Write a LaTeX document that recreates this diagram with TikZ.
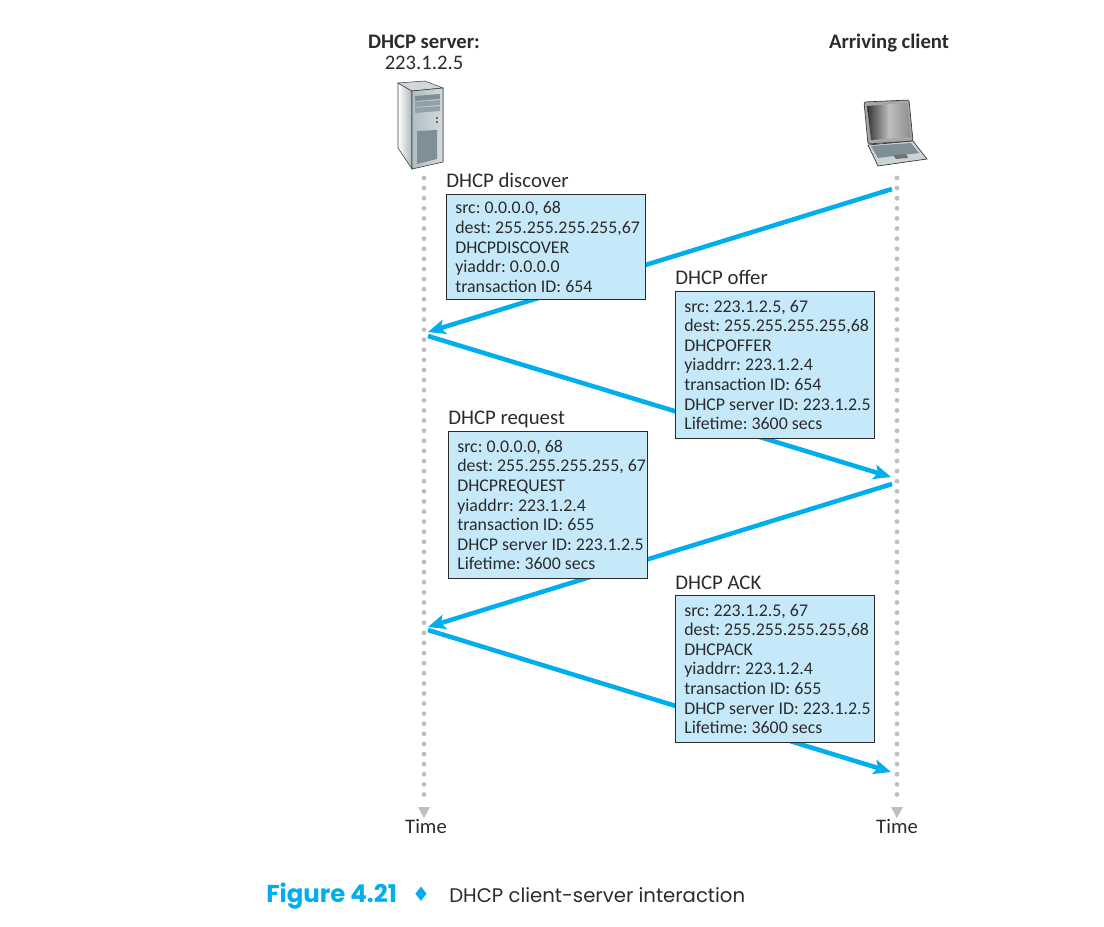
\documentclass[tikz,border=0pt]{standalone}
\usepackage{fontspec}
\setmainfont{Carlito}
\newfontfamily\capfont{Poppins}
\newfontfamily\symfont{DejaVu Sans}
\usetikzlibrary{arrows.meta,calc}
\definecolor{flow}{HTML}{00AEEF}
\definecolor{boxfill}{HTML}{C6E9FA}
\definecolor{dotgray}{HTML}{BDBFC1}
\definecolor{ink}{HTML}{2B2B2B}
\definecolor{steel}{HTML}{A9B6BC}
\definecolor{steeldark}{HTML}{7F8F97}
\tikzset{
  msgbox/.style={draw=ink,line width=0.8pt,fill=boxfill,anchor=north west,inner sep=0pt,minimum width=199*0.75pt},
  msgtext/.style={anchor=west,align=left,text=ink,inner sep=0pt,font=\frenchspacing\fontsize{13.4}{14.7}\selectfont},
  msgtitle/.style={anchor=base west,text=ink,inner sep=0pt,font=\fontsize{15.6}{18}\selectfont},
  hostlabel/.style={anchor=base,text=ink,inner sep=0pt,font=\fontsize{15.5}{18}\selectfont},
  timeline/.style={dotgray,line width=3.6pt,line cap=round,dash pattern=on 0pt off 7.58pt},
  timetip/.style={fill=dotgray,draw=none},
  flowline/.style={flow,line width=3.4pt,-{Stealth[length=13pt,width=11pt,inset=3pt]}},
}
\begin{document}
\begin{tikzpicture}[x=0.75pt,y=-0.75pt]
\useasboundingbox (0,0) rectangle (1104,927);
% coordinates
\coordinate (s0) at (424,178); \coordinate (s1) at (424,802);
\coordinate (c0) at (897,178); \coordinate (c1) at (897,802);
\coordinate (a1) at (892,189); \coordinate (b1) at (428,332);
\coordinate (a2) at (428,336); \coordinate (b2) at (891,477);
\coordinate (a3) at (892,484); \coordinate (b3) at (428,627);
\coordinate (a4) at (428,630); \coordinate (b4) at (891,772);
% timelines
\draw[timeline] (s0) -- (s1);
\draw[timeline] (c0) -- (c1);
\fill[timetip] (418,807) -- (430,807) -- (424,818) -- cycle;
\fill[timetip] (891,807) -- (903,807) -- (897,818) -- cycle;
% arrows
\draw[flowline] (a1) -- (b1);
\draw[flowline] (a2) -- (b2);
\draw[flowline] (a3) -- (b3);
\draw[flowline] (a4) -- (b4);
% boxes
\node[msgbox,minimum height=105*0.75pt] (m1) at (446,194) {};
\node[msgbox,minimum height=147*0.75pt] (m2) at (675,291) {};
\node[msgbox,minimum height=147*0.75pt] (m3) at (448,431) {};
\node[msgbox,minimum height=147*0.75pt] (m4) at (675,595) {};
\node[msgtext] (x1) at ($(m1.west)+(9,0)$) {src: 0.0.0.0, 68\\dest: 255.255.255.255,67\\DHCPDISCOVER\\yiaddr: 0.0.0.0\\transaction ID: 654};
\node[msgtext] (x2) at ($(m2.west)+(9,0)$) {src: 223.1.2.5, 67\\dest: 255.255.255.255,68\\DHCPOFFER\\yiaddrr: 223.1.2.4\\transaction ID: 654\\DHCP server ID: 223.1.2.5\\Lifetime: 3600 secs};
\node[msgtext] (x3) at ($(m3.west)+(9,0)$) {src: 0.0.0.0, 68\\dest: 255.255.255.255, 67\\DHCPREQUEST\\yiaddrr: 223.1.2.4\\transaction ID: 655\\DHCP server ID: 223.1.2.5\\Lifetime: 3600 secs};
\node[msgtext] (x4) at ($(m4.west)+(9,0)$) {src: 223.1.2.5, 67\\dest: 255.255.255.255,68\\DHCPACK\\yiaddrr: 223.1.2.4\\transaction ID: 655\\DHCP server ID: 223.1.2.5\\Lifetime: 3600 secs};
% titles
\node[msgtitle] (t1) at (446,188) {DHCP discover};
\node[msgtitle] (t2) at (675,285) {DHCP offer};
\node[msgtitle] (t3) at (448,425) {DHCP request};
\node[msgtitle] (t4) at (675,589) {DHCP ACK};
% host labels
\node[hostlabel] (h1) at (424,49) {\bfseries DHCP server:};
\node[hostlabel] (h2) at (424,70) {223.1.2.5};
\node[hostlabel] (h3) at (889,49) {\bfseries Arriving client};
\node[hostlabel] (h4) at (426,833) {Time};
\node[hostlabel] (h5) at (897,833) {Time};
% caption
\node[anchor=base west,inner sep=0pt,text=flow,font=\capfont\bfseries\fontsize{18.3}{22}\selectfont] (f1) at (266,902) {Figure 4.21};
\node[anchor=base,inner sep=0pt,text=flow,font=\symfont\fontsize{15}{18}\selectfont] (f2) at (421,901) {♦};
\node[anchor=base west,inner sep=0pt,text=ink,font=\capfont\fontsize{14.75}{20}\selectfont] (f3) at (449,902) {DHCP client-server interaction};
% server
\fill[left color=white,right color=steel,draw=black!75,line width=0.4pt] (398,83) -- (412,91) -- (412,169) -- (398,148) -- cycle;
\fill[fill=steel!55,draw=black!75,line width=0.4pt] (398,83) -- (425,81) -- (443,88) -- (412,91) -- cycle;
\fill[left color=steel!90,right color=steel!50,draw=black!75,line width=0.4pt] (412,91) -- (443,88) -- (443,162) -- (412,169) -- cycle;
\fill[steeldark] (415,96) -- (440,94) -- (440,99) -- (415,101) -- cycle;
\fill[steeldark!85] (415,102) -- (440,100) -- (440,105) -- (415,107) -- cycle;
\fill[steeldark!85] (415,108) -- (440,106) -- (440,111) -- (415,113) -- cycle;
\fill[black!60] (436,117) rectangle (437.5,119);
\fill[black!60] (436,121) rectangle (437.5,123);
\fill[steeldark] (417,131) -- (437,130) -- (437,159) -- (417,164) -- cycle;
% laptop
\fill[black!35,draw=black!80,line width=0.5pt,rounded corners=1pt] (864,102) -- (909,100) -- (913,141) -- (868,144) -- cycle;
\shade[left color=black!80,right color=black!45,middle color=black!25] (867,106) -- (907,103) -- (911,137) -- (871,140) -- cycle;
\fill[steel!60,draw=black!80,line width=0.5pt] (868,145) -- (913,141) -- (927,159) -- (878,166) -- cycle;
\fill[steeldark] (871,146) -- (911,143) -- (919,153) -- (878,158) -- cycle;
\fill[black!55] (893,155) -- (906,154) -- (908,158) -- (896,159) -- cycle;
\end{tikzpicture}
\end{document}
